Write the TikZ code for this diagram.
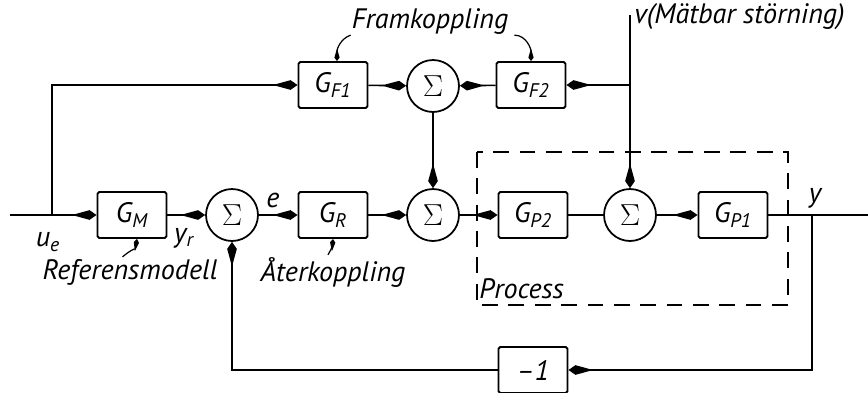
\documentclass[tikz,border=0pt]{standalone}
\usepackage{fontspec}
\setsansfont{PT Sans}
\usetikzlibrary{arrows.meta}

\newcommand{\gsub}[2]{#1\textsubscript{#2}}

\begin{document}
\begin{tikzpicture}[x=0.02cm, y=-0.02cm,
    every node/.style={font=\sffamily\itshape\fontsize{16}{18}\selectfont},
    block/.style={draw, line width=1.1pt, rounded corners=1pt, minimum width=1.38cm, minimum height=0.92cm, inner sep=0pt},
    sum/.style={draw, circle, line width=1pt, minimum size=1.04cm, inner sep=0pt, font=\fontsize{19}{21}\selectfont},
    flow/.style={-{Kite[length=14pt,width=5.5pt,inset=10pt]}, line width=0.9pt},
    note/.style={-{Kite[length=7pt,width=3pt,inset=5pt]}, line width=0.7pt},
    procbox/.style={line width=1.1pt, dash pattern=on 9pt off 6pt}]
    \useasboundingbox (0,0) rectangle (868,392);

    % main chain
    \node[block] (GM)  at (132,215) {\gsub{G}{M}};
    \node[sum]   (S1)  at (232,215) {$\Sigma$};
    \node[block] (GR)  at (333,215) {\gsub{G}{R}};
    \node[sum]   (S2)  at (433,215) {$\Sigma$};
    \node[block] (GP2) at (533,215) {\gsub{G}{P2}};
    \node[sum]   (S3)  at (630,215) {$\Sigma$};
    \node[block] (GP1) at (733,215) {\gsub{G}{P1}};

    % feedforward
    \node[block] (GF1) at (333,85) {\gsub{G}{F1}};
    \node[sum]   (SF)  at (433,86) {$\Sigma$};
    \node[block] (GF2) at (531,85) {\gsub{G}{F2}};

    % feedback
    \node[block] (M1) at (533,370) {–1};

    \coordinate (in)   at (10,215);
    \coordinate (br)   at (52,215);
    \coordinate (vtop) at (630,15);
    \coordinate (vj)   at (630,85);
    \coordinate (tap)  at (812,215);
    \coordinate (out)  at (868,215);

    \draw[flow] (in) -- (GM);
    \draw[flow] (br) |- (GF1);
    \draw[flow] (GM) -- (S1);
    \draw[flow] (S1) -- (GR);
    \draw[flow] (GR) -- (S2);
    \draw[flow] (S2) -- (GP2);
    \draw[line width=0.9pt] (GP2) -- (S3);
    \draw[flow] (S3) -- (GP1);
    \draw[line width=0.9pt] (GP1) -- (out);

    \draw[flow] (GF1) -- (SF);
    \draw[flow] (GF2) -- (SF);
    \draw[flow] (vj) -- (GF2);
    \draw[flow] (SF) -- (S2);
    \draw[flow] (vtop) -- (S3);

    \draw[flow] (tap) |- (M1);
    \draw[flow] (M1) -| (S1);

    % process
    \draw[procbox] (477,152) rectangle (788,305);
    \node[anchor=west, inner sep=0pt] (proc) at (479,289) {Process};

    % labels
    \node (ue) at (48,242) {u\textsubscript{e}};
    \node (yr) at (184,238) {y\textsubscript{r}};
    \node (e)  at (273,200) {e};
    \node (y)  at (815,198) {y};
    \node[anchor=west, inner sep=0pt] (v) at (634,17) {v(Mätbar störning)};

    \node (fram)  at (430,22)  {Framkoppling};
    \node (ref)   at (130,272) {Referensmodell};
    \node (ater)  at (333,272) {Återkoppling};

    \draw[note] ([xshift=0.1cm,yshift=0.12cm]fram.south west) to[out=200, in=90] ([xshift=0.08cm]GF1.north);
    \draw[note] ([yshift=0.12cm]fram.south east) to[out=0, in=90] (GF2.north);
    \draw[note] ([xshift=-0.15cm,yshift=-0.08cm]ref.north) to[out=40, in=-100] ([xshift=0.1cm]GM.south);
    \draw[note] ([xshift=-0.1cm,yshift=-0.08cm]ater.north) to[out=60, in=-95] (GR.south);
\end{tikzpicture}
\end{document}
